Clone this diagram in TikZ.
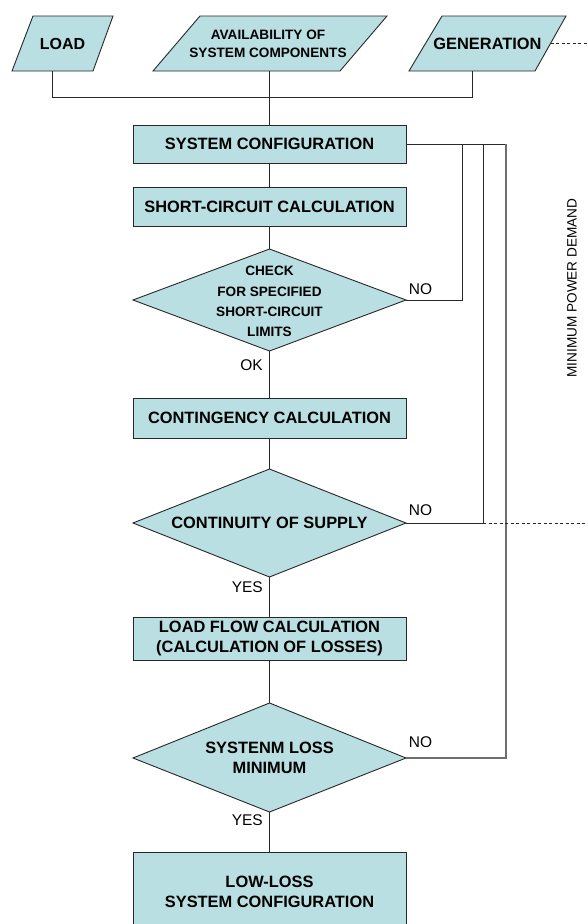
\documentclass[tikz,border=0pt]{standalone}
\usepackage{fontspec}
\setmainfont{Liberation Sans}
\definecolor{cfill}{RGB}{185,223,226}
\definecolor{cline}{RGB}{40,40,40}
\definecolor{gline}{RGB}{110,110,110}
\tikzset{
  proc/.style={draw=cline, fill=cfill, line width=0.9pt, minimum width=273pt, inner sep=0pt, align=center, font=\bfseries\fontsize{16.4}{20.5}\selectfont},
  shapefill/.style={draw=cline, fill=cfill, line width=0.9pt, line join=miter},
  dtext/.style={inner sep=0pt, align=center, font=\bfseries\fontsize{16.4}{20}\selectfont},
  lbl/.style={inner sep=0pt, font=\fontsize{15.5}{18}\selectfont},
  conn/.style={draw=cline, line width=0.9pt},
  gconn/.style={draw=gline, line width=1.1pt},
  dashconn/.style={draw=cline, line width=0.8pt, dash pattern=on 3pt off 2.5pt}
}
\begin{document}
\begin{tikzpicture}[x=1pt,y=-1pt]
\useasboundingbox (0,0) rectangle (588,924);
\clip (0,0) rectangle (588,924);

% input parallelograms
\filldraw[shapefill] (12,71) -- (33,16) -- (113,16) -- (93,71) -- cycle;
\node[dtext, font=\bfseries\fontsize{16}{20}\selectfont] (load) at (62.5,43.5) {LOAD};
\coordinate (loadb) at (52.5,71);

\filldraw[shapefill] (153,71) -- (200,16) -- (387,16) -- (340,71) -- cycle;
\node[dtext, font=\bfseries\fontsize{13.6}{18}\selectfont] (avail) at (268,44) {AVAILABILITY OF\\SYSTEM COMPONENTS};
\coordinate (availb) at (269.5,71);

\filldraw[shapefill] (409,71) -- (442,16) -- (566,16) -- (535,71) -- cycle;
\node[dtext] (gen) at (487.5,43.5) {GENERATION};
\coordinate (genb) at (472,71);
\coordinate (genr) at (550.5,43.5);
\coordinate (genend) at (588,43.5);

% process boxes
\node[proc, minimum height=38pt] (sc) at (269.5,144) {SYSTEM CONFIGURATION};
\node[proc, minimum height=39pt] (scc) at (269.5,206.5) {SHORT-CIRCUIT CALCULATION};
\node[proc, minimum height=40pt] (cont) at (269.5,418) {CONTINGENCY CALCULATION};
\node[proc, minimum height=43pt] (lf) at (269.5,638.5) {LOAD FLOW CALCULATION\\(CALCULATION OF LOSSES)};
\node[proc, minimum height=80pt] (ll) at (269.5,892) {LOW-LOSS\\SYSTEM CONFIGURATION};

% decisions
\coordinate (d1t) at (269.5,249); \coordinate (d1b) at (269.5,351);
\coordinate (d1l) at (133,300);   \coordinate (d1r) at (406,300);
\filldraw[shapefill] (d1l) -- (d1t) -- (d1r) -- (d1b) -- cycle;
\node[dtext, font=\bfseries\fontsize{13.6}{20.3}\selectfont] (d1) at (269.5,301.5) {CHECK\\FOR SPECIFIED\\SHORT-CIRCUIT\\LIMITS};

\coordinate (d2t) at (269.5,469); \coordinate (d2b) at (269.5,577);
\coordinate (d2l) at (133,523);   \coordinate (d2r) at (406,523);
\filldraw[shapefill] (d2l) -- (d2t) -- (d2r) -- (d2b) -- cycle;
\node[dtext] (d2) at (269.5,523) {CONTINUITY OF SUPPLY};

\coordinate (d3t) at (269.5,703); \coordinate (d3b) at (269.5,812);
\coordinate (d3l) at (133,758);   \coordinate (d3r) at (406,758);
\filldraw[shapefill] (d3l) -- (d3t) -- (d3r) -- (d3b) -- cycle;
\node[dtext] (d3) at (269.5,758) {SYSTENM LOSS\\MINIMUM};

% top connectors
\coordinate (junc) at (269.5,97);
\draw[conn] (loadb) |- (junc);
\draw[conn] (genb) |- (junc);
\draw[conn] (availb) -- (sc.north);
\draw[dashconn] (genr) -- (genend);

% main flow
\draw[conn] (sc.south) -- (scc.north);
\draw[conn] (scc.south) -- (d1t);
\draw[conn] (d1b) -- (cont.north);
\draw[conn] (cont.south) -- (d2t);
\draw[conn] (d2b) -- (lf.north);
\draw[conn] (lf.south) -- (d3t);
\draw[conn] (d3b) -- (ll.north);

% feedback loops
\coordinate (r1) at (462,144);
\coordinate (r2) at (483,144);
\coordinate (r3) at (506,144);
\draw[conn] (sc.east) -- (r3);
\draw[conn] (d1r) -| (r1);
\draw[conn] (d2r) -| (r2);
\draw[gconn] (d3r) -| (r3);
\coordinate (d2end) at (588,523);
\draw[dashconn] (483,523) -- (d2end);

% labels
\node[lbl] (no1) at (420.5,289) {NO};
\node[lbl] (no2) at (420.5,510) {NO};
\node[lbl] (no3) at (420.5,742) {NO};
\node[lbl, anchor=east] (ok) at (263,365) {OK};
\node[lbl, anchor=east] (yes1) at (263,587) {YES};
\node[lbl, anchor=east] (yes2) at (263,820) {YES};
\node[inner sep=0pt, rotate=90, font=\fontsize{13.6}{16}\selectfont] (mpd) at (572,288) {MINIMUM POWER DEMAND};
\end{tikzpicture}
\end{document}
